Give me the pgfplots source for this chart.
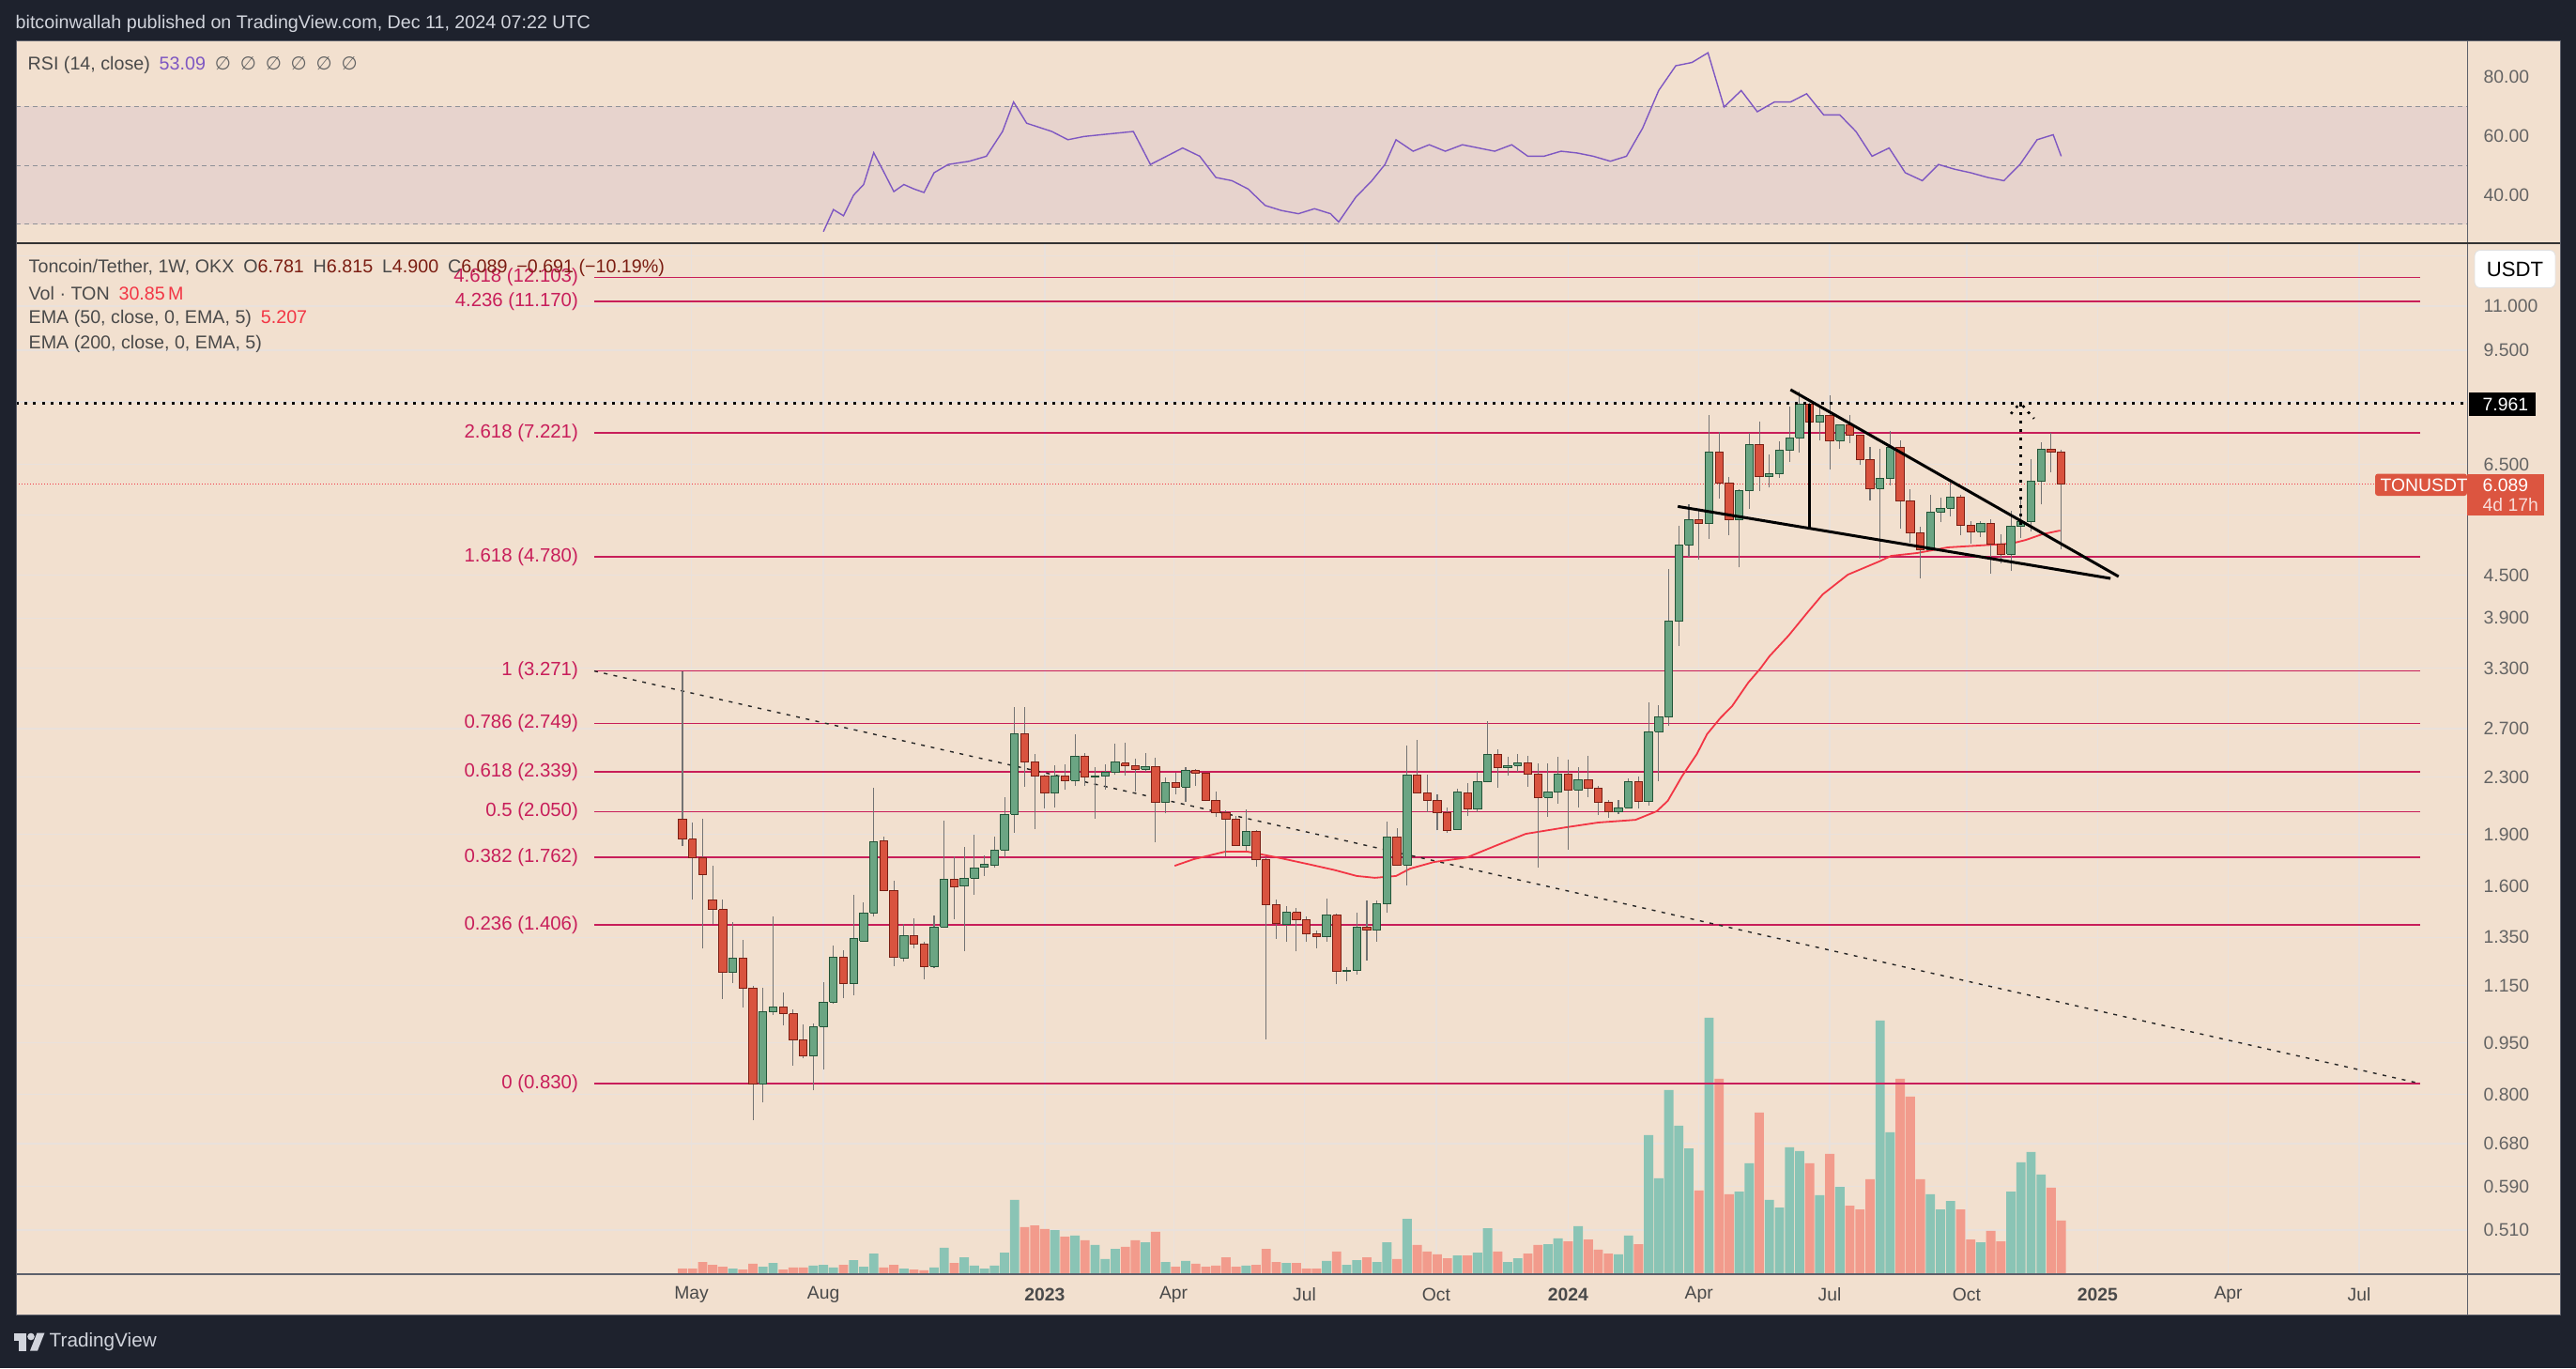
\documentclass[border=0pt]{standalone}
\usepackage{fontspec}
\setmainfont{Liberation Sans}
\newfontfamily\dejavu{DejaVu Sans}
\usepackage{pgfplots}
\usepackage{pgfplotstable}
\pgfplotsset{compat=1.18}
\usepgfplotslibrary{fillbetween}

\definecolor{tvdark}{HTML}{1E222D}
\definecolor{tvbg}{HTML}{F2E0CF}
\definecolor{tvgrid}{HTML}{E9E1DC}
\definecolor{tvband}{HTML}{E7D3CD}
\definecolor{tvsep}{HTML}{5D606B}
\definecolor{tvtext}{HTML}{4A4A4A}
\definecolor{tvtick}{HTML}{646464}
\definecolor{headtext}{HTML}{D1D4DC}
\definecolor{fibred}{HTML}{C81E5A}
\definecolor{candgreen}{HTML}{6BA583}
\definecolor{candgreend}{HTML}{225437}
\definecolor{candred}{HTML}{D9533F}
\definecolor{candredd}{HTML}{7A1F14}
\definecolor{wickgray}{HTML}{737373}
\definecolor{volgreen}{HTML}{8AC4B5}
\definecolor{volred}{HTML}{F29B8C}
\definecolor{emared}{HTML}{F23645}
\definecolor{rsipurple}{HTML}{7E57C2}
\definecolor{rsigreen}{HTML}{B3D6A6}
\definecolor{pricered}{HTML}{DC5540}
\definecolor{ohlcred}{HTML}{7B1D12}

\newcommand\tvfont{\fontsize{5.5}{6.5}\selectfont}
\newcommand\legfont{\fontsize{5.6}{6.6}\selectfont}
\newcommand\fibfont{\fontsize{5.8}{7}\selectfont}

% weekly candles, i = week index (0 = week of 25 Apr 2022), v = volume in M
\pgfplotstableread{
i o h l c v
0 2.00 3.27 1.83 1.87 3.2
1 1.87 1.98 1.53 1.76 3.2
2 1.76 2.00 1.30 1.66 7.0
3 1.53 1.71 1.41 1.48 5.4
4 1.48 1.53 1.10 1.20 4.3
5 1.20 1.42 1.16 1.26 3.2
6 1.26 1.34 1.07 1.14 2.7
7 1.14 1.15 0.736 0.829 6.0
8 0.829 1.14 0.781 1.055 4.3
9 1.055 1.449 1.043 1.071 6.5
10 1.071 1.123 1.008 1.047 2.7
11 1.047 1.062 0.881 0.960 3.8
12 0.960 1.010 0.903 0.910 3.8
13 0.910 1.013 0.811 1.003 4.9
14 1.003 1.163 0.870 1.088 5.4
15 1.088 1.313 1.081 1.264 3.8
16 1.264 1.293 1.104 1.158 5.4
17 1.158 1.554 1.114 1.345 8.1
18 1.332 1.516 1.330 1.463 4.3
19 1.463 2.218 1.445 1.855 11.9
20 1.861 1.884 1.573 1.578 3.8
21 1.578 1.627 1.228 1.264 5.4
22 1.260 1.409 1.245 1.357 3.2
23 1.357 1.438 1.303 1.320 2.7
24 1.320 1.328 1.175 1.225 2.2
25 1.225 1.450 1.220 1.396 3.8
26 1.396 1.989 1.392 1.638 15.2
27 1.638 1.767 1.434 1.596 6.5
28 1.600 1.823 1.290 1.643 9.7
29 1.643 1.898 1.556 1.700 4.9
30 1.705 1.775 1.656 1.718 3.2
31 1.716 1.886 1.700 1.804 4.9
32 1.804 2.150 1.759 2.032 12.4
33 2.032 2.902 1.912 2.656 42.8
34 2.656 2.900 2.228 2.419 27.1
35 2.419 2.482 1.935 2.308 28.1
36 2.308 2.320 2.073 2.181 26.0
37 2.181 2.389 2.081 2.308 25.4
38 2.308 2.396 2.202 2.272 21.6
39 2.272 2.648 2.230 2.464 22.2
40 2.464 2.490 2.230 2.300 19.5
41 2.300 2.380 2.003 2.310 16.8
42 2.310 2.396 2.208 2.337 8.7
43 2.337 2.566 2.315 2.419 14.6
44 2.410 2.574 2.313 2.389 15.7
45 2.389 2.443 2.188 2.359 19.5
46 2.359 2.490 2.337 2.381 18.4
47 2.381 2.450 1.853 2.114 24.4
48 2.114 2.293 2.037 2.258 7.0
49 2.258 2.330 2.174 2.224 4.3
50 2.224 2.380 2.114 2.352 7.6
51 2.352 2.359 2.230 2.330 6.0
52 2.330 2.330 2.121 2.128 4.3
53 2.128 2.188 2.012 2.043 4.9
54 2.043 2.056 1.768 1.999 9.7
55 1.999 2.018 1.830 1.832 4.3
56 1.832 2.065 1.803 1.920 4.9
57 1.920 1.926 1.706 1.749 5.4
58 1.749 1.760 0.962 1.504 14.6
59 1.504 1.529 1.344 1.413 7.0
60 1.409 1.499 1.328 1.467 6.5
61 1.467 1.489 1.287 1.431 6.5
62 1.431 1.449 1.328 1.365 3.2
63 1.365 1.382 1.303 1.352 3.2
64 1.352 1.534 1.331 1.453 7.6
65 1.453 1.462 1.154 1.205 13.0
66 1.205 1.221 1.168 1.210 5.4
67 1.210 1.467 1.194 1.398 8.1
68 1.398 1.524 1.251 1.381 9.7
69 1.381 1.524 1.331 1.509 7.0
70 1.509 1.981 1.463 1.884 18.4
71 1.884 1.939 1.711 1.716 8.7
72 1.716 2.550 1.606 2.315 31.9
73 2.315 2.598 2.180 2.181 16.8
74 2.181 2.315 2.049 2.128 13.0
75 2.128 2.174 1.926 2.043 11.4
76 2.043 2.075 1.910 1.926 9.2
77 1.930 2.210 1.930 2.188 10.8
78 2.181 2.257 2.018 2.068 10.8
79 2.068 2.341 2.049 2.265 12.4
80 2.265 2.766 2.260 2.480 26.5
81 2.479 2.524 2.221 2.371 13.0
82 2.371 2.459 2.314 2.388 7.0
83 2.388 2.482 2.337 2.411 9.2
84 2.411 2.465 2.226 2.325 11.9
85 2.325 2.403 1.700 2.148 16.8
86 2.148 2.403 2.016 2.188 17.3
87 2.188 2.459 2.106 2.325 20.6
88 2.325 2.435 1.806 2.202 18.9
89 2.202 2.376 2.080 2.279 27.6
90 2.279 2.465 2.152 2.216 20.0
91 2.216 2.230 2.029 2.112 14.1
92 2.112 2.130 2.010 2.047 11.9
93 2.047 2.130 2.035 2.078 11.4
94 2.078 2.290 2.074 2.265 22.2
95 2.265 2.300 2.070 2.119 17.3
96 2.119 2.948 2.093 2.672 80.1
97 2.672 2.920 2.269 2.810 55.2
98 2.810 4.591 2.723 3.863 106.1
99 3.863 5.300 3.558 4.974 85.5
100 4.974 5.690 4.777 5.411 72.5
101 5.411 5.565 4.731 5.344 48.2
102 5.344 7.652 5.070 6.775 147.7
103 6.775 7.234 5.808 6.112 112.6
104 6.112 6.228 5.142 5.411 46.0
105 5.411 5.980 4.615 5.962 47.6
106 5.962 7.210 5.612 6.946 63.9
107 6.946 7.494 5.950 6.240 93.1
108 6.240 6.718 6.017 6.306 42.8
109 6.306 7.019 6.218 6.817 38.4
110 6.817 7.887 6.560 7.100 73.1
111 7.100 8.273 6.757 7.944 70.9
112 7.944 7.990 7.000 7.486 63.9
113 7.486 7.870 7.050 7.652 45.5
114 7.652 8.179 6.385 7.033 69.3
115 7.033 7.420 6.850 7.417 50.3
116 7.417 7.650 6.980 7.166 39.5
117 7.166 7.170 6.483 6.607 37.3
118 6.607 6.885 5.770 5.998 54.7
119 5.998 6.838 4.751 6.208 146.1
120 6.208 7.256 6.070 6.881 81.7
121 6.881 7.040 5.256 5.760 112.6
122 5.760 5.980 5.005 5.180 102.3
123 5.180 5.290 4.455 4.897 54.7
124 4.897 5.880 4.890 5.548 46.0
125 5.548 5.820 5.370 5.617 37.3
126 5.617 6.110 5.470 5.830 42.2
127 5.830 5.870 5.134 5.310 37.3
128 5.310 5.380 4.995 5.200 20.0
129 5.200 5.380 5.110 5.340 18.4
130 5.340 5.410 4.520 4.990 24.9
131 4.990 5.150 4.680 4.820 18.9
132 4.820 5.565 4.560 5.290 47.6
133 5.290 5.820 5.090 5.380 64.4
134 5.380 6.620 5.200 6.150 70.4
135 6.150 7.000 5.690 6.840 57.4
136 6.840 7.210 6.330 6.780 49.8
137 6.781 6.815 4.900 6.089 30.85
}\ohlc

% EMA 50
\pgfplotstableread{
i p
48.9 1.712
50.8 1.750
53.9 1.794
56.1 1.795
59.2 1.759
62.3 1.720
64.8 1.688
67.0 1.655
68.8 1.645
70.9 1.655
72.3 1.696
74.7 1.734
77.9 1.759
81.0 1.835
83.8 1.904
87.8 1.946
91.0 1.977
94.7 1.995
96.8 2.052
97.9 2.124
99.3 2.303
100.8 2.483
101.8 2.651
103.1 2.795
104.3 2.911
105.9 3.147
107.1 3.298
108.0 3.435
109.9 3.679
111.8 3.977
113.3 4.220
115.8 4.506
118.9 4.707
120.1 4.796
122.7 4.842
125.7 4.933
128.8 4.964
132.0 4.995
133.5 5.058
135.1 5.153
136.9 5.218
}\ema

% RSI 14
\pgfplotstableread{
i r
14 27.5
15 35.0
16 32.9
17 39.9
18 43.5
19 54.3
20 47.8
21 41.1
22 43.5
23 42.0
24 40.8
25 47.5
26.4 50.3
28.5 51.4
30.2 53.1
31.8 61.5
32.9 71.5
34.2 64.3
36.7 61.5
38.3 58.7
39.9 59.8
41.6 60.4
44.8 61.5
46.5 50.3
48.1 53.1
49.7 55.9
51.4 53.1
53.0 45.9
54.6 44.8
56.2 42.0
57.9 36.4
59.5 34.7
61.2 33.6
62.8 35.3
64.4 33.6
65.2 30.8
66.9 39.2
68.5 44.8
69.8 50.3
70.9 58.7
72.6 54.8
74.2 57.0
75.8 54.8
77.5 57.0
79.1 55.9
80.7 54.8
82.4 57.0
84.0 53.1
85.6 53.1
87.3 54.8
88.9 54.2
90.5 53.1
92.2 51.4
93.8 53.1
95.4 62.6
97.0 75.4
98.7 83.8
100.3 84.9
101.9 88.2
103.5 69.8
105.2 75.4
106.8 68.2
108.5 71.5
110.1 71.5
111.7 74.3
113.4 67.1
115.0 67.1
116.6 61.5
118.2 53.1
119.9 55.9
121.5 47.5
123.2 44.8
124.8 50.3
126.4 48.7
128.0 47.5
129.7 45.9
131.3 44.8
132.9 50.3
134.6 58.7
136.2 60.4
137.0 53.09
}\rsi

\pgfplotsset{
  tvbase/.style={scale only axis, width=261.1mm, anchor=south west,
    xmin=-66.23, xmax=177.33,
    axis line style={draw=none}, major tick length=0pt},
  tvticks/.style={
    xtick={0.9,14,36,48.8,61.8,74.9,88,101,114,127.6,140.6,153.6,166.6},
    yticklabel pos=right,
    yticklabel style={anchor=west, inner sep=0pt, xshift=1.7mm, text=tvtick, font=\tvfont},
    grid=major, major grid style={draw=tvgrid, line width=0.35pt}},
}

\begin{document}
\begin{tikzpicture}
% frame
\fill[tvdark] (0,0) rectangle (274.4mm,-145.7mm);
\fill[tvbg] (1.7mm,-4.3mm) rectangle (272.7mm,-140.0mm);
% RSI 30-70 band
\fill[tvband] (1.7mm,-11.3mm) rectangle (262.8mm,-23.9mm);

% RSI panel
\begin{axis}[tvbase, tvticks, at={(1.7mm,-25.9mm)}, height=21.6mm,
  ymin=23.6, ymax=92.4, xticklabels={,,,,,,,,,,,,},
  ytick={40,60,80}, yticklabels={40.00,60.00,80.00}]
\addplot[draw=tvsep!70, line width=0.1mm, dash pattern=on 0.5mm off 0.4mm] coordinates {(-66.23,70) (177.33,70)};
\addplot[draw=tvsep!70, line width=0.1mm, dash pattern=on 0.5mm off 0.4mm] coordinates {(-66.23,50) (177.33,50)};
\addplot[draw=tvsep!70, line width=0.1mm, dash pattern=on 0.5mm off 0.4mm] coordinates {(-66.23,30) (177.33,30)};
\addplot[draw=none, name path=rsitop, forget plot] table[x=i, y expr={max(\thisrow{r},70)}] {\rsi};
\addplot[draw=none, name path=rsiseventy, forget plot] coordinates {(14,70) (137,70)};
\addplot[rsigreen] fill between[of=rsitop and rsiseventy];
\addplot[rsipurple, line width=0.14mm] table[x=i, y=r] {\rsi};
\end{axis}

% price panel: grid and scale
\begin{axis}[tvbase, tvticks, at={(1.7mm,-135.7mm)}, height=109.8mm,
  ymode=log, ymin=0.4405, ymax=13.56,
  xticklabels={May,Aug,\textbf{2023},Apr,Jul,Oct,\textbf{2024},Apr,Jul,Oct,\textbf{2025},Apr,Jul},
  xticklabel style={anchor=center, yshift=-2.2mm, text=tvtext, font=\tvfont},
  ytick={0.51,0.59,0.68,0.8,0.95,1.15,1.35,1.6,1.9,2.3,2.7,3.3,3.9,4.5,5.5,6.5,8,9.5,11,13},
  yticklabels={0.510,0.590,0.680,0.800,0.950,1.150,1.350,1.600,1.900,2.300,2.700,3.300,3.900,4.500,{},6.500,{},9.500,11.000,{}}]
\end{axis}

% volume
\begin{axis}[tvbase, at={(1.7mm,-135.7mm)}, height=109.8mm,
  ymin=0, ymax=594, xtick=\empty, ytick=\empty]
\addplot[ybar, bar width=0.92, bar shift=0pt, fill=volgreen, draw=none]
  table[x=i, y expr={\thisrow{c}>=\thisrow{o} ? \thisrow{v} : 0}] {\ohlc};
\addplot[ybar, bar width=0.92, bar shift=0pt, fill=volred, draw=none]
  table[x=i, y expr={\thisrow{c}>=\thisrow{o} ? 0 : \thisrow{v}}] {\ohlc};
\end{axis}

% price panel: data
\begin{axis}[tvbase, at={(1.7mm,-135.7mm)}, height=109.8mm,
  ymode=log, ymin=0.4405, ymax=13.56, xtick=\empty, ytick=\empty]
% fibonacci levels
\foreach \lv/\pr in {4.618/12.103, 4.236/11.170, 2.618/7.221, 1.618/4.780, 1/3.271,
  0.786/2.749, 0.618/2.339, 0.5/2.050, 0.382/1.762, 0.236/1.406, 0/0.830}{%
  \edef\temp{\noexpand\addplot[fibred, line width=0.16mm] coordinates {(-8.77,\pr) (172.7,\pr)};
    \noexpand\node[anchor=east, text=fibred, font=\noexpand\fibfont, inner sep=0pt] at (axis cs:-10.3,\pr) {\lv\space(\pr)};}%
  \temp
}
% long descending dashed line
\addplot[black!85, line width=0.14mm, dash pattern=on 0.4mm off 0.65mm] coordinates {(-8.77,3.271) (172.7,0.830)};
% last price line
\addplot[emared, line width=0.1mm, dash pattern=on 0.1mm off 0.2mm] coordinates {(-66.23,6.089) (177.33,6.089)};
% EMA 50
\addplot[emared, line width=0.18mm] table[x=i, y=p] {\ema};
% candles
\foreach \k in {0,...,137}{%
  \pgfplotstablegetelem{\k}{i}\of\ohlc \let\ci\pgfplotsretval
  \pgfplotstablegetelem{\k}{o}\of\ohlc \let\co\pgfplotsretval
  \pgfplotstablegetelem{\k}{h}\of\ohlc \let\chh\pgfplotsretval
  \pgfplotstablegetelem{\k}{l}\of\ohlc \let\cll\pgfplotsretval
  \pgfplotstablegetelem{\k}{c}\of\ohlc \let\ccl\pgfplotsretval
  \ifdim\ccl pt<\co pt \def\cfill{candred}\def\cdraw{candredd}\else\def\cfill{candgreen}\def\cdraw{candgreend}\fi
  \pgfmathsetmacro\xa{\ci-0.39}\pgfmathsetmacro\xb{\ci+0.39}%
  \edef\temp{\noexpand\addplot[draw=wickgray, line width=0.3pt] coordinates {(\ci,\cll) (\ci,\chh)};
    \noexpand\addplot[fill=\cfill, draw=\cdraw, line width=0.28pt] coordinates {(\xa,\co) (\xb,\co) (\xb,\ccl) (\xa,\ccl) (\xa,\co)};}%
  \temp
}
% drawings: all-time-high line, falling wedge, flagpole, target arrow
\addplot[black, line width=0.3mm, dash pattern=on 0.3mm off 0.62mm] coordinates {(-66.23,7.961) (177.33,7.961)};
\addplot[black, line width=0.3mm] coordinates {(110.1,8.333) (142.7,4.478)};
\addplot[black, line width=0.3mm] coordinates {(98.9,5.653) (141.9,4.450)};
\addplot[black, line width=0.3mm] coordinates {(112.0,7.952) (112.0,5.272)};
\addplot[black, line width=0.3mm, dash pattern=on 0.3mm off 0.6mm] coordinates {(132.96,5.32) (132.96,7.94)};
\addplot[black, line width=0.26mm, dash pattern=on 0.26mm off 0.6mm] coordinates {(132.0,7.69) (132.6,7.88) (133.1,7.93) (133.7,7.74) (134.3,7.57)};
\end{axis}

% separators
\draw[tvsep, line width=0.1mm] (262.8mm,-4.3mm) -- (262.8mm,-140.0mm);
\draw[black!80, line width=0.15mm] (1.7mm,-25.9mm) -- (272.7mm,-25.9mm);
\draw[tvsep, line width=0.15mm] (1.7mm,-135.7mm) -- (272.7mm,-135.7mm);
\draw[tvsep, line width=0.1mm] (1.7mm,-4.3mm) rectangle (272.7mm,-140.0mm);

% header and footer
\node[anchor=west, inner sep=0pt, text=headtext, font=\legfont] at (1.6mm,-2.5mm)
  {bitcoinwallah published on TradingView.com, Dec 11, 2024 07:22 UTC};
\fill[headtext] (1.5mm,-141.95mm) rectangle (2.75mm,-142.75mm);
\fill[headtext] (2.0mm,-141.95mm) rectangle (2.75mm,-143.85mm);
\fill[headtext] (3.3mm,-142.35mm) circle (0.38mm);
\fill[headtext] (3.2mm,-143.85mm) -- (3.95mm,-141.95mm) -- (4.75mm,-141.95mm) -- (4.0mm,-143.85mm) -- cycle;
\node[anchor=west, inner sep=0pt, text=headtext, font=\fontsize{5.9}{7}\selectfont] at (5.2mm,-142.9mm) {TradingView};

% indicator captions
\node[anchor=west, inner sep=0pt, font=\legfont] at (2.9mm,-6.9mm)
  {\textcolor{tvtext}{RSI (14, close)}\enspace\textcolor{rsipurple}{53.09}\enspace
   \textcolor{tvtick}{\dejavu ∅\enspace∅\enspace∅\enspace∅\enspace∅\enspace∅}};
\node[anchor=west, inner sep=0pt, font=\legfont] at (3.0mm,-28.57mm)
  {\textcolor{tvtext}{Toncoin/Tether, 1W, OKX}\enspace
   \textcolor{tvtext}{O}\textcolor{ohlcred}{6.781}\enspace
   \textcolor{tvtext}{H}\textcolor{ohlcred}{6.815}\enspace
   \textcolor{tvtext}{L}\textcolor{ohlcred}{4.900}\enspace
   \textcolor{tvtext}{C}\textcolor{ohlcred}{6.089}\enspace
   \textcolor{ohlcred}{−0.691 (−10.19\%)}};
\node[anchor=west, inner sep=0pt, font=\legfont] at (3.0mm,-31.2mm)
  {\textcolor{tvtext}{Vol · TON}\enspace\textcolor{emared}{30.85\,M}};
\node[anchor=west, inner sep=0pt, font=\legfont] at (3.0mm,-33.9mm)
  {\textcolor{tvtext}{EMA (50, close, 0, EMA, 5)}\enspace\textcolor{emared}{5.207}};
\node[anchor=west, inner sep=0pt, font=\legfont] at (3.0mm,-36.67mm)
  {\textcolor{tvtext}{EMA (200, close, 0, EMA, 5)}};

% price scale labels
\filldraw[fill=white, draw=black!12, line width=0.08mm, rounded corners=0.6mm] (263.6mm,-26.65mm) rectangle (272.2mm,-30.65mm);
\node[font=\fontsize{6.3}{7}\selectfont, text=black] at (267.9mm,-28.65mm) {USDT};
\fill[black] (263.0mm,-41.8mm) rectangle (270.1mm,-44.3mm);
\node[anchor=west, inner sep=0pt, text=white, font=\tvfont] at (264.4mm,-43.05mm) {7.961};
\fill[pricered, rounded corners=0.3mm] (253.0mm,-50.45mm) rectangle (262.8mm,-52.8mm);
\node[anchor=west, inner sep=0pt, text=white, font=\tvfont] at (253.5mm,-51.65mm) {TONUSDT};
\fill[pricered] (262.8mm,-50.45mm) rectangle (271.0mm,-54.9mm);
\node[anchor=west, inner sep=0pt, text=white, font=\tvfont] at (264.4mm,-51.65mm) {6.089};
\node[anchor=west, inner sep=0pt, text=white!80!pricered, font=\tvfont] at (264.4mm,-53.8mm) {4d 17h};

\pgfresetboundingbox
\path[use as bounding box] (0,0) rectangle (274.4mm,-145.7mm);
\end{tikzpicture}
\end{document}
